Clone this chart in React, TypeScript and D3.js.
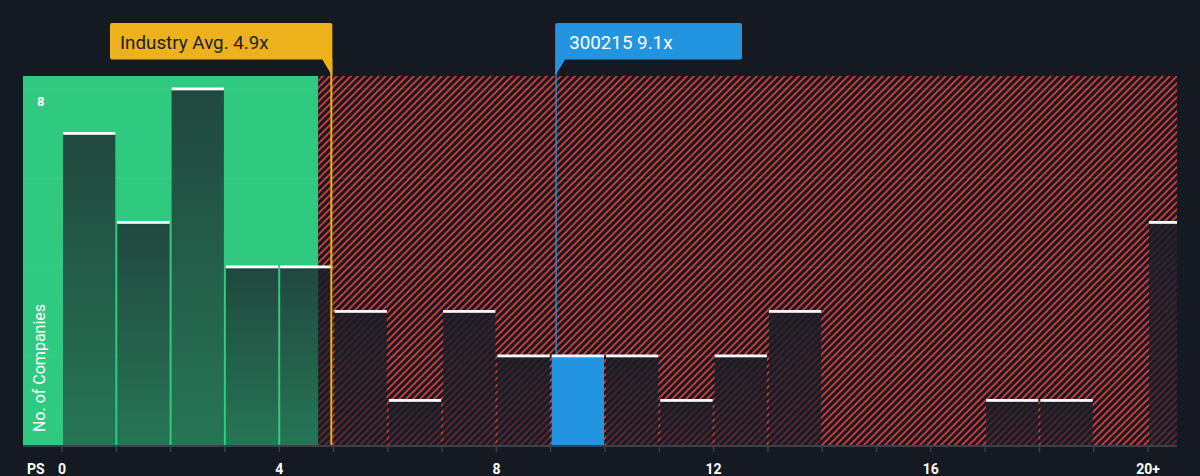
import React from "react";
import * as d3 from "d3";

const binStarts = [0, 1, 2, 3, 4, 5, 6, 7, 8, 9, 10, 11, 12, 13, 14, 15, 16, 17, 18, 19, 20];
const counts = [7, 5, 8, 4, 4, 3, 1, 3, 2, 2, 2, 1, 2, 3, 0, 0, 0, 1, 1, 0, 5];
const highlightBin = 9;
const tickValues = [0, 4, 8, 12, 16, 20];
const tickLabels = ["0", "4", "8", "12", "16", "20+"];
const gridValues = [2, 4, 6, 8];
const yLabelValues = [8];
const industryAvg = 4.96;
const industryLabel = "Industry Avg. 4.9x";
const companyValue = 9.1;
const companyLabel = "300215 9.1x";
const greenEndValue = 4.72;

const W = 1200;
const H = 476;
const BG = "#151a22";
const GREEN = "#2fca7f";
const RED = "#d33a3a";
const GOLD = "#edb11c";
const BLUE = "#2394df";

export default function App() {
  const plotLeft = 23;
  const plotRight = 1177;
  const plotTop = 76;
  const plotBottom = 445;

  const x = d3.scaleLinear().domain([0, 20]).range([62, 1148]);
  const y = d3.scaleLinear().domain([0, 8]).range([plotBottom, 89]);
  const binW = x(1) - x(0);

  const greenEnd = x(greenEndValue);
  const indX = x(industryAvg);
  const compX = x(companyValue);

  const font = "Roboto, 'Open Sans', sans-serif";

  const bars = binStarts
    .map((b, i) => ({ b, c: counts[i], i }))
    .filter((d) => d.c > 0);

  const barRect = (d: { b: number; c: number; i: number }, fill: string) => {
    const x0 = x(d.b) + 1;
    const x1 = Math.min(x(d.b) + binW - 1, plotRight);
    const top = y(d.c);
    return <rect key={d.b} x={x0} y={top} width={x1 - x0} height={plotBottom - top} fill={fill} />;
  };

  return (
    <svg
      width={W}
      height={H}
      style={{ position: "absolute", left: 0, top: 0, display: "block" }}
      fontFamily={font}
    >
      <defs>
        <pattern id="hatch" patternUnits="userSpaceOnUse" width={7} height={7}>
          <rect width={7} height={7} fill={BG} />
          <path
            d="M-1.75,1.75 L1.75,-1.75 M0,7 L7,0 M5.25,8.75 L8.75,5.25"
            stroke={RED}
            strokeWidth={1.9}
          />
        </pattern>
        <linearGradient id="barGrad" x1="0" y1="0" x2="0" y2="1">
          <stop offset="0%" stopColor="#1c1a28" stopOpacity={0.74} />
          <stop offset="100%" stopColor="#1c1a28" stopOpacity={0.48} />
        </linearGradient>
        <linearGradient id="barGradRed" x1="0" y1="0" x2="0" y2="1">
          <stop offset="0%" stopColor="#1b1d27" stopOpacity={0.88} />
          <stop offset="100%" stopColor="#1b1d27" stopOpacity={0.62} />
        </linearGradient>
        <clipPath id="clipGreen">
          <rect x={plotLeft} y={0} width={greenEnd - plotLeft} height={H} />
        </clipPath>
        <clipPath id="clipRed">
          <rect x={greenEnd} y={0} width={W - greenEnd} height={H} />
        </clipPath>
      </defs>
      <rect width={W} height={H} fill={BG} />

      {/* regions */}
      <rect x={plotLeft} y={plotTop} width={greenEnd - plotLeft} height={plotBottom - plotTop} fill={GREEN} />
      <rect x={greenEnd} y={plotTop} width={plotRight - greenEnd} height={plotBottom - plotTop} fill="url(#hatch)" />

      {/* grid */}
      {gridValues.map((g) => (
        <line key={g} x1={plotLeft} x2={plotRight} y1={y(g)} y2={y(g)} stroke="#ffffff" strokeOpacity={0.08} strokeWidth={1} />
      ))}

      {/* company marker line */}
      <line x1={compX} x2={compX} y1={59} y2={plotBottom} stroke={BLUE} strokeWidth={1.5} strokeOpacity={0.85} />

      {/* bars */}
      <g clipPath="url(#clipGreen)">{bars.filter((d) => d.i !== highlightBin).map((d) => barRect(d, "url(#barGrad)"))}</g>
      <g clipPath="url(#clipRed)">{bars.filter((d) => d.i !== highlightBin).map((d) => barRect(d, "url(#barGradRed)"))}</g>
      <g>{bars.filter((d) => d.i === highlightBin).map((d) => barRect(d, BLUE))}</g>
      {bars.map((d) => {
        const x0 = x(d.b) + 1;
        const x1 = Math.min(x(d.b) + binW - 1, plotRight);
        return <rect key={"t" + d.b} x={x0} y={y(d.c) - 1.5} width={x1 - x0} height={2.8} fill="#ffffff" />;
      })}

      {/* industry line + label */}
      <line x1={indX} x2={indX} y1={59} y2={plotBottom} stroke={GOLD} strokeWidth={2} />
      <path
        d={`M${110 + 2},23 H${indX + 1 - 2} Q${indX + 1},23 ${indX + 1},25 V76 L${indX - 9},59.5 H${110 + 2} Q110,59.5 110,57.5 V25 Q110,23 ${110 + 2},23 Z`}
        fill={GOLD}
      />
      <text x={120} y={48.5} fontSize={18.8} fill="#1b1f27">
        {industryLabel}
      </text>

      {/* company label */}
      <path
        d={`M${compX - 1},25 Q${compX - 1},23 ${compX + 1},23 H740 Q742,23 742,25 V57.5 Q742,59.5 740,59.5 H${compX + 9} L${compX - 1},76 Z`}
        fill={BLUE}
      />
      <text x={compX + 13} y={48.5} fontSize={18.8} fill="#ffffff">
        {companyLabel}
      </text>

      {/* y labels */}
      {yLabelValues.map((v) => (
        <text key={v} x={37} y={y(v) + 16.5} fontSize={13} fontWeight={700} fill="#ffffff">
          {v}
        </text>
      ))}
      <text
        transform={`translate(45, ${368}) rotate(-90)`}
        textAnchor="middle"
        fontSize={16}
        fill="#ffffff"
      >
        No. of Companies
      </text>

      {/* x axis */}
      <line x1={plotLeft} x2={plotRight} y1={plotBottom + 1} y2={plotBottom + 1} stroke="#3b4049" strokeWidth={2} />
      {binStarts.map((b) => (
        <line key={b} x1={x(b)} x2={x(b)} y1={plotBottom + 1} y2={plotBottom + 7} stroke="#3b4049" strokeWidth={1.5} />
      ))}
      {tickValues.map((t, i) => (
        <text key={t} x={x(t)} y={474} textAnchor="middle" fontSize={14} fontWeight={700} fill="#ffffff">
          {tickLabels[i]}
        </text>
      ))}
      <text x={27} y={474} fontSize={14} fontWeight={700} fill="#ffffff">
        PS
      </text>
    </svg>
  );
}
